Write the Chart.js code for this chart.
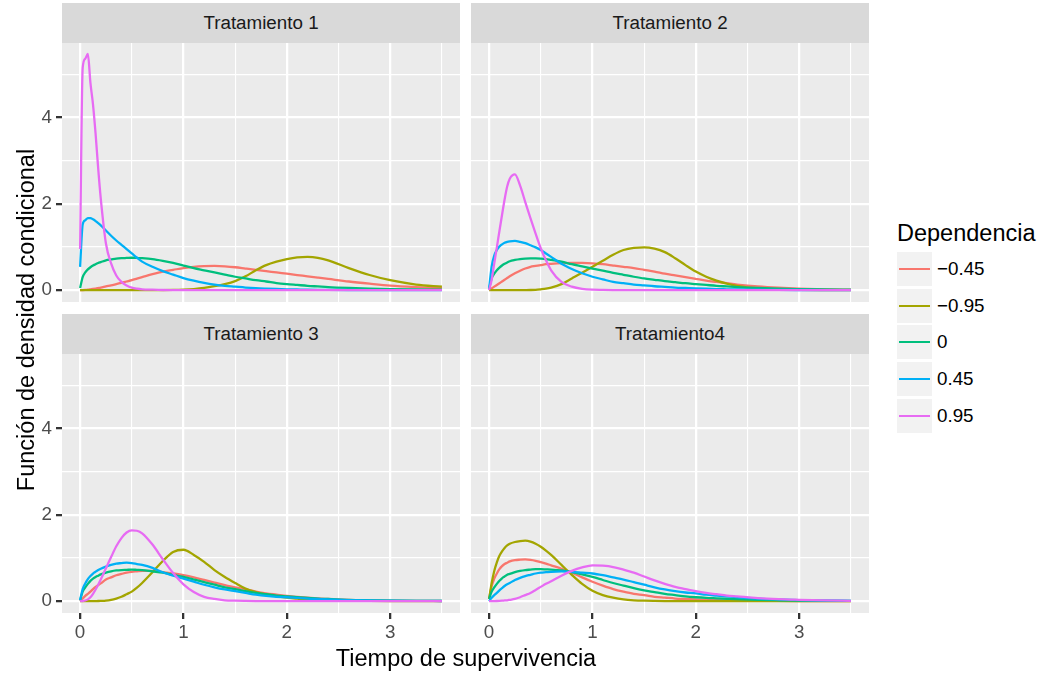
<!DOCTYPE html>
<html lang="es">
<head>
<meta charset="utf-8">
<title>Función de densidad condicional por tratamiento</title>
<script src="https://cdn.jsdelivr.net/npm/chart.js@4.4.1/dist/chart.umd.min.js"></script>
<style>
  html, body { margin: 0; padding: 0; background: #FFFFFF; }
  body {
    width: 1044px; height: 677px; position: relative; overflow: hidden;
    font-family: "Liberation Sans", Arial, Helvetica, sans-serif;
  }
  canvas { position: absolute; }
  .strip {
    position: absolute; background: #D9D9D9; color: #1A1A1A;
    font-size: 18.8px; line-height: 40px; height: 40px; text-align: center;
    white-space: nowrap;
  }
  .axis-title { position: absolute; color: #000000; font-size: 23.5px; white-space: nowrap; text-align: center; }
  .legend-title { position: absolute; color: #000000; font-size: 23.5px; white-space: nowrap; }
  .key { position: absolute; background: #F2F2F2; }
  .key span { position: absolute; left: 2px; right: 2px; height: 2.3px; }
  .key-label { position: absolute; color: #000000; font-size: 18.8px; white-space: nowrap; }
</style>
</head>
<body>
<script>
// ---- Datos ---------------------------------------------------------------
// Tiempo de supervivencia (abscisa común a todas las curvas)
const TIEMPO = [
  0, 0.025, 0.05, 0.075, 0.1, 0.125, 0.15, 0.175, 0.2,
  0.25, 0.3, 0.35, 0.4, 0.45, 0.5, 0.55, 0.6,
  0.7, 0.8, 0.9, 1.0,
  1.1, 1.2, 1.3, 1.4, 1.5, 1.6, 1.7, 1.8, 1.9, 2.0, 2.1, 2.2, 2.3, 2.4,
  2.6, 2.8, 3.0, 3.25, 3.5];

// Niveles de dependencia y sus colores
const DEPENDENCIA = ["\u22120.45", "\u22120.95", "0", "0.45", "0.95"];
const COLORES = ["#F8766D", "#A3A500", "#00BF7D", "#00B0F6", "#E76BF3"];

const TRATAMIENTOS = ["Tratamiento 1", "Tratamiento 2", "Tratamiento 3", "Tratamiento4"];

// Marcas de los ejes
const X_MAYORES = [0, 1, 2, 3];
const X_MENORES = [0.5, 1.5, 2.5, 3.5];
const Y_MAYORES = [0, 2, 4];
const Y_MENORES = [1, 3, 5];
const X_RANGO = [-0.175, 3.675];
const Y_RANGO = [-0.275, 5.725];

// Tratamiento 1
const t1_m045 = [
  0, 0.002, 0.006, 0.012, 0.02, 0.028, 0.037, 0.047, 0.057,
  0.085, 0.11, 0.14, 0.17, 0.20, 0.23, 0.265, 0.30,
  0.37, 0.43, 0.47, 0.51,
  0.54, 0.555, 0.56, 0.55, 0.53, 0.50, 0.47, 0.44, 0.41, 0.38, 0.35, 0.32, 0.29, 0.26,
  0.20, 0.15, 0.105, 0.07, 0.045];
const t1_m095 = [
  0, 0, 0, 0, 0, 0, 0, 0, 0,
  0, 0, 0, 0, 0, 0, 0, 0,
  0.001, 0.002, 0.005, 0.012,
  0.025, 0.05, 0.09, 0.14, 0.21, 0.32, 0.46, 0.58, 0.66, 0.72, 0.76, 0.77, 0.75, 0.69,
  0.51, 0.35, 0.23, 0.13, 0.08];
const t1_0 = [
  0.05, 0.30, 0.41, 0.48, 0.53, 0.57, 0.60, 0.63, 0.65,
  0.69, 0.71, 0.73, 0.74, 0.745, 0.75, 0.745, 0.74,
  0.72, 0.68, 0.63, 0.57,
  0.51, 0.46, 0.41, 0.36, 0.31, 0.27, 0.23, 0.20, 0.165, 0.14, 0.12, 0.10, 0.085, 0.07,
  0.05, 0.035, 0.024, 0.015, 0.01];
const t1_045 = [
  0.54, 1.52, 1.62, 1.67, 1.67, 1.64, 1.60, 1.55, 1.50,
  1.38, 1.26, 1.15, 1.05, 0.95, 0.85, 0.75, 0.66,
  0.54, 0.44, 0.36, 0.28,
  0.22, 0.17, 0.13, 0.10, 0.08, 0.06, 0.045, 0.035, 0.027, 0.02, 0.015, 0.01, 0.007, 0.005,
  0.003, 0.002, 0.001, 0, 0];
const t1_095 = [
  0.95, 5.15, 5.36, 5.47, 4.80, 4.30, 3.62, 2.82, 2.12,
  1.08, 0.62, 0.34, 0.19, 0.11, 0.06, 0.035, 0.02,
  0.01, 0.003, 0.001, 0,
  0, 0, 0, 0, 0, 0, 0, 0, 0, 0, 0, 0, 0, 0,
  0, 0, 0, 0, 0];

// Tratamiento 2
const t2_m045 = [
  0, 0.04, 0.08, 0.12, 0.16, 0.20, 0.24, 0.28, 0.32,
  0.39, 0.45, 0.50, 0.54, 0.56, 0.58, 0.60, 0.61,
  0.625, 0.63, 0.63, 0.62,
  0.60, 0.57, 0.54, 0.51, 0.47, 0.43, 0.38, 0.34, 0.30, 0.26, 0.22, 0.19, 0.16, 0.13,
  0.085, 0.055, 0.035, 0.02, 0.01];
const t2_m095 = [
  0, 0, 0, 0, 0, 0, 0, 0, 0,
  0, 0, 0.001, 0.003, 0.008, 0.02, 0.035, 0.06,
  0.14, 0.27, 0.40, 0.54,
  0.68, 0.82, 0.93, 0.98, 0.99, 0.96, 0.88, 0.74, 0.58, 0.43, 0.31, 0.22, 0.15, 0.10,
  0.04, 0.015, 0.005, 0.001, 0];
const t2_0 = [
  0.03, 0.28, 0.38, 0.46, 0.52, 0.57, 0.61, 0.64, 0.67,
  0.70, 0.72, 0.73, 0.735, 0.735, 0.73, 0.72, 0.70,
  0.66, 0.60, 0.55, 0.50,
  0.45, 0.40, 0.355, 0.31, 0.27, 0.24, 0.21, 0.185, 0.16, 0.14, 0.12, 0.10, 0.085, 0.07,
  0.05, 0.035, 0.025, 0.015, 0.01];
const t2_045 = [
  0.03, 0.55, 0.80, 0.93, 1.01, 1.06, 1.10, 1.12, 1.13,
  1.14, 1.12, 1.09, 1.04, 0.99, 0.93, 0.85, 0.77,
  0.61, 0.49, 0.39, 0.31,
  0.25, 0.19, 0.16, 0.13, 0.11, 0.09, 0.075, 0.06, 0.05, 0.04, 0.032, 0.025, 0.02, 0.015,
  0.01, 0.005, 0.003, 0.001, 0];
const t2_095 = [
  0, 0.24, 0.62, 0.99, 1.37, 1.74, 2.10, 2.40, 2.58,
  2.68, 2.42, 2.04, 1.67, 1.31, 0.97, 0.69, 0.46,
  0.19, 0.08, 0.03, 0.01,
  0.005, 0.002, 0.001, 0, 0, 0, 0, 0, 0, 0, 0, 0, 0, 0,
  0, 0, 0, 0, 0];

// Tratamiento 3
const t3_m045 = [
  0, 0.06, 0.12, 0.17, 0.22, 0.28, 0.33, 0.37, 0.41,
  0.50, 0.55, 0.60, 0.63, 0.66, 0.68, 0.69, 0.70,
  0.70, 0.67, 0.64, 0.60,
  0.55, 0.49, 0.43, 0.37, 0.32, 0.27, 0.22, 0.18, 0.15, 0.12, 0.10, 0.08, 0.065, 0.05,
  0.03, 0.02, 0.012, 0.006, 0.003];
const t3_m095 = [
  0, 0, 0, 0, 0.001, 0.001, 0.002, 0.003, 0.005,
  0.012, 0.03, 0.06, 0.10, 0.16, 0.22, 0.31, 0.42,
  0.67, 0.93, 1.14, 1.19,
  1.07, 0.91, 0.72, 0.56, 0.42, 0.29, 0.21, 0.16, 0.11, 0.08, 0.06, 0.04, 0.03, 0.02,
  0.01, 0.005, 0.002, 0.001, 0];
const t3_0 = [
  0.02, 0.22, 0.32, 0.40, 0.47, 0.52, 0.56, 0.59, 0.62,
  0.66, 0.69, 0.71, 0.72, 0.725, 0.73, 0.725, 0.72,
  0.69, 0.66, 0.61, 0.56,
  0.50, 0.44, 0.38, 0.32, 0.28, 0.23, 0.19, 0.16, 0.13, 0.11, 0.09, 0.075, 0.06, 0.05,
  0.03, 0.02, 0.013, 0.007, 0.004];
const t3_045 = [
  0.02, 0.28, 0.41, 0.51, 0.58, 0.64, 0.68, 0.72, 0.75,
  0.80, 0.84, 0.87, 0.88, 0.89, 0.88, 0.86, 0.84,
  0.77, 0.67, 0.59, 0.52,
  0.45, 0.38, 0.32, 0.27, 0.23, 0.19, 0.15, 0.12, 0.10, 0.09, 0.075, 0.06, 0.05, 0.04,
  0.025, 0.015, 0.01, 0.005, 0.003];
const t3_095 = [
  0, 0.003, 0.015, 0.04, 0.09, 0.17, 0.27, 0.38, 0.50,
  0.76, 1.02, 1.27, 1.46, 1.59, 1.64, 1.63, 1.57,
  1.31, 0.97, 0.65, 0.39,
  0.21, 0.10, 0.05, 0.02, 0.01, 0.005, 0.002, 0.001, 0, 0, 0, 0, 0, 0,
  0, 0, 0, 0, 0];

// Tratamiento 4
const t4_m045 = [
  0.05, 0.35, 0.52, 0.64, 0.74, 0.81, 0.86, 0.89, 0.92,
  0.95, 0.96, 0.965, 0.955, 0.935, 0.905, 0.87, 0.83,
  0.75, 0.66, 0.55, 0.45,
  0.36, 0.28, 0.22, 0.17, 0.14, 0.10, 0.08, 0.06, 0.05, 0.04, 0.03, 0.025, 0.02, 0.015,
  0.01, 0.005, 0.003, 0.001, 0];
const t4_m095 = [
  0.05, 0.42, 0.70, 0.90, 1.05, 1.15, 1.23, 1.29, 1.33,
  1.37, 1.39, 1.40, 1.38, 1.33, 1.26, 1.17, 1.07,
  0.84, 0.61, 0.40, 0.24,
  0.14, 0.08, 0.04, 0.02, 0.01, 0.005, 0.002, 0.001, 0, 0, 0, 0, 0, 0,
  0, 0, 0, 0, 0];
const t4_0 = [
  0.05, 0.22, 0.32, 0.40, 0.47, 0.53, 0.57, 0.61, 0.63,
  0.67, 0.70, 0.72, 0.73, 0.74, 0.74, 0.735, 0.73,
  0.71, 0.67, 0.62, 0.56,
  0.49, 0.42, 0.36, 0.30, 0.25, 0.21, 0.17, 0.14, 0.11, 0.09, 0.075, 0.065, 0.055, 0.045,
  0.03, 0.02, 0.012, 0.007, 0.004];
const t4_045 = [
  0, 0.08, 0.14, 0.19, 0.25, 0.30, 0.35, 0.39, 0.42,
  0.49, 0.54, 0.58, 0.61, 0.64, 0.66, 0.67, 0.68,
  0.69, 0.68, 0.66, 0.64,
  0.60, 0.55, 0.50, 0.44, 0.38, 0.32, 0.27, 0.23, 0.20, 0.18, 0.15, 0.13, 0.11, 0.09,
  0.06, 0.04, 0.025, 0.015, 0.008];
const t4_095 = [
  0, 0, 0.001, 0.003, 0.006, 0.01, 0.015, 0.02, 0.03,
  0.05, 0.09, 0.14, 0.19, 0.26, 0.33, 0.40, 0.46,
  0.59, 0.70, 0.78, 0.83,
  0.82, 0.79, 0.73, 0.66, 0.57, 0.48, 0.40, 0.33, 0.28, 0.23, 0.19, 0.16, 0.13, 0.11,
  0.07, 0.045, 0.03, 0.015, 0.008];

const SERIES = [
  [t1_m045, t1_m095, t1_0, t1_045, t1_095],
  [t2_m045, t2_m095, t2_0, t2_045, t2_095],
  [t3_m045, t3_m095, t3_0, t3_045, t3_095],
  [t4_m045, t4_m095, t4_0, t4_045, t4_095]
];

// ---- Composición --------------------------------------------------------
const FUENTE = "'Liberation Sans', Arial, Helvetica, sans-serif";
const LINEA = 2.28;       // grosor de curvas y cuadrícula mayor
const LINEA_MENOR = 1.14; // cuadrícula menor

// Posición de cada faceta (panel gris) en la página
const PANELES = [
  { left: 62,  top: 43,  w: 398, h: 259, stripTop: 3,   ejeY: true,  ejeX: false },
  { left: 471, top: 43,  w: 398, h: 259, stripTop: 3,   ejeY: false, ejeX: false },
  { left: 62,  top: 354, w: 398, h: 259, stripTop: 314, ejeY: true,  ejeX: true  },
  { left: 471, top: 354, w: 398, h: 259, stripTop: 314, ejeY: false, ejeX: true  }
];
const ANCHO_EJE_Y = 62;
const ALTO_EJE_X = 36;

const fondoPanel = {
  id: "fondoPanel",
  beforeDraw(chart) {
    const { ctx, chartArea: a } = chart;
    ctx.save();
    ctx.fillStyle = "#EBEBEB";
    ctx.fillRect(a.left, a.top, a.right - a.left, a.bottom - a.top);
    ctx.restore();
  }
};

function sinRelleno(s) {
  s.paddingLeft = 0; s.paddingRight = 0; s.paddingTop = 0; s.paddingBottom = 0;
}

function esMayor(lista, ctx) {
  return !!(ctx && ctx.tick && lista.includes(ctx.tick.value));
}

PANELES.forEach((p, k) => {
  const anchoY = p.ejeY ? ANCHO_EJE_Y : 0;
  const altoX = p.ejeX ? ALTO_EJE_X : 0;

  const strip = document.createElement("div");
  strip.className = "strip";
  strip.textContent = TRATAMIENTOS[k];
  Object.assign(strip.style, { left: p.left + "px", top: p.stripTop + "px", width: p.w + "px" });
  document.body.appendChild(strip);

  const cv = document.createElement("canvas");
  const cw = p.w + anchoY, ch = p.h + altoX;
  cv.width = cw; cv.height = ch;
  Object.assign(cv.style, { left: (p.left - anchoY) + "px", top: p.top + "px", width: cw + "px", height: ch + "px" });
  document.body.appendChild(cv);

  const datasets = SERIES[k].map((ys, i) => ({
    label: DEPENDENCIA[i],
    data: TIEMPO.map((t, j) => ({ x: t, y: ys[j] })),
    borderColor: COLORES[i],
    backgroundColor: COLORES[i],
    borderWidth: LINEA,
    pointRadius: 0,
    fill: false,
    cubicInterpolationMode: "monotone",
    order: DEPENDENCIA.length - 1 - i
  }));

  new Chart(cv, {
    type: "line",
    data: { datasets },
    plugins: [fondoPanel],
    options: {
      responsive: false,
      animation: false,
      devicePixelRatio: 1,
      events: [],
      layout: { padding: 0 },
      plugins: { legend: { display: false }, tooltip: { enabled: false } },
      scales: {
        x: {
          type: "linear",
          min: X_RANGO[0], max: X_RANGO[1],
          afterBuildTicks: s => { s.ticks = X_MAYORES.concat(X_MENORES).map(v => ({ value: v })); },
          afterFit: s => { s.height = altoX; sinRelleno(s); },
          border: { display: false },
          grid: {
            color: "#FFFFFF",
            lineWidth: ctx => esMayor(X_MAYORES, ctx) ? LINEA : LINEA_MENOR,
            drawTicks: p.ejeX,
            tickLength: 6,
            tickWidth: LINEA,
            tickColor: ctx => esMayor(X_MAYORES, ctx) ? "#333333" : "rgba(0,0,0,0)"
          },
          ticks: {
            display: p.ejeX,
            autoSkip: false, maxRotation: 0, minRotation: 0,
            padding: 3,
            color: "#4D4D4D",
            font: { family: FUENTE, size: 18.8 },
            callback: v => X_MAYORES.includes(v) ? String(v) : ""
          }
        },
        y: {
          type: "linear",
          min: Y_RANGO[0], max: Y_RANGO[1],
          afterBuildTicks: s => { s.ticks = Y_MAYORES.concat(Y_MENORES).map(v => ({ value: v })); },
          afterFit: s => { s.width = anchoY; sinRelleno(s); },
          border: { display: false },
          grid: {
            color: "#FFFFFF",
            lineWidth: ctx => esMayor(Y_MAYORES, ctx) ? LINEA : LINEA_MENOR,
            drawTicks: p.ejeY,
            tickLength: 6,
            tickWidth: LINEA,
            tickColor: ctx => esMayor(Y_MAYORES, ctx) ? "#333333" : "rgba(0,0,0,0)"
          },
          ticks: {
            display: p.ejeY,
            autoSkip: false,
            padding: 4,
            color: "#4D4D4D",
            font: { family: FUENTE, size: 18.8 },
            callback: v => Y_MAYORES.includes(v) ? String(v) : ""
          }
        }
      }
    }
  });
});

// Títulos de los ejes
const tituloX = document.createElement("div");
tituloX.className = "axis-title";
tituloX.textContent = "Tiempo de supervivencia";
Object.assign(tituloX.style, { left: "266px", width: "400px", top: "646px", lineHeight: "24px", height: "24px" });
document.body.appendChild(tituloX);

const tituloY = document.createElement("div");
tituloY.className = "axis-title";
tituloY.textContent = "Función de densidad condicional";
Object.assign(tituloY.style, {
  left: (26 - 250) + "px", top: (320 - 12) + "px", width: "500px", height: "24px", lineHeight: "24px",
  transform: "rotate(-90deg)", transformOrigin: "50% 50%"
});
document.body.appendChild(tituloY);

// Leyenda
const LEY_X = 897, LEY_Y0 = 252, LEY_PASO = 36.7, LEY_ALTO = 34, LEY_ANCHO = 35;
const tituloLey = document.createElement("div");
tituloLey.className = "legend-title";
tituloLey.textContent = "Dependencia";
Object.assign(tituloLey.style, { left: LEY_X + "px", top: (233 - 12) + "px", height: "24px", lineHeight: "24px" });
document.body.appendChild(tituloLey);

DEPENDENCIA.forEach((nivel, i) => {
  const top = Math.round(LEY_Y0 + i * LEY_PASO);
  const caja = document.createElement("div");
  caja.className = "key";
  Object.assign(caja.style, { left: LEY_X + "px", top: top + "px", width: LEY_ANCHO + "px", height: LEY_ALTO + "px" });
  const trazo = document.createElement("span");
  trazo.style.background = COLORES[i];
  trazo.style.top = "16px";
  caja.appendChild(trazo);
  document.body.appendChild(caja);

  const etiqueta = document.createElement("div");
  etiqueta.className = "key-label";
  etiqueta.textContent = nivel;
  Object.assign(etiqueta.style, { left: (LEY_X + 40) + "px", top: top + "px", height: LEY_ALTO + "px", lineHeight: LEY_ALTO + "px" });
  document.body.appendChild(etiqueta);
});
</script>
</body>
</html>
